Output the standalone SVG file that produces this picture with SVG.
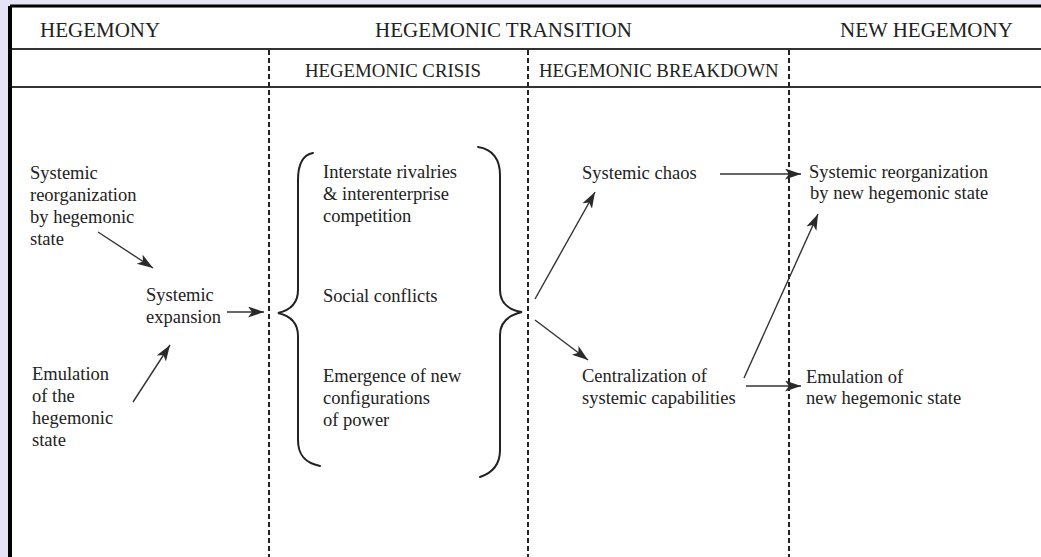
<svg xmlns="http://www.w3.org/2000/svg" width="1041" height="557" viewBox="0 0 1041 557">
  <style>
    .hdr { font-family: "Liberation Serif", "DejaVu Serif", serif; font-size: 21px; fill: #222; }
    .sub { font-family: "Liberation Serif", "DejaVu Serif", serif; font-size: 18.8px; fill: #222; }
    .lbl { font-family: "Liberation Serif", "DejaVu Serif", serif; font-size: 18.5px; fill: #222; }
    .rule { stroke: #333; stroke-width: 2; fill: none; }
    .dash { stroke: #222; stroke-width: 2; stroke-dasharray: 5 3; fill: none; }
    .brace { stroke: #222; stroke-width: 2; fill: none; stroke-linecap: round; }
    .arrow { stroke: #333; stroke-width: 1.4; fill: none; marker-end: url(#head); }
  </style>
  <defs>
    <marker id="head" markerUnits="userSpaceOnUse" markerWidth="18" markerHeight="12" refX="16" refY="5.5" orient="auto">
      <path d="M0,0 L16,5.5 L0,11 L4,5.5 z" fill="#2a2a2a"/>
    </marker>
  </defs>

  <!-- page background and framed panel -->
  <rect x="0" y="0" width="1041" height="557" fill="#e4e4f6"/>
  <rect x="10" y="7.5" width="1031" height="549.5" fill="#ffffff"/>
  <line x1="10" y1="6" x2="1041" y2="6" stroke="#000" stroke-width="3"/>
  <line x1="10" y1="6" x2="10" y2="557" stroke="#000" stroke-width="4"/>

  <!-- header rules -->
  <line class="rule" x1="12" y1="49" x2="1041" y2="49" stroke="#555"/>
  <line class="rule" x1="12" y1="87" x2="1041" y2="87"/>

  <!-- phase dividers -->
  <g id="dividers">
    <line class="dash" x1="269" y1="50" x2="269" y2="557"/>
    <line class="dash" x1="528" y1="50" x2="528" y2="557"/>
    <line class="dash" x1="789" y1="50" x2="789" y2="557"/>
  </g>

  <!-- column headings -->
  <g id="headings">
    <text class="hdr" x="40" y="37">HEGEMONY</text>
    <text class="hdr" x="375" y="37">HEGEMONIC TRANSITION</text>
    <text class="hdr" x="840" y="37">NEW HEGEMONY</text>
    <text class="sub" x="305" y="77">HEGEMONIC CRISIS</text>
    <text class="sub" x="539" y="77">HEGEMONIC BREAKDOWN</text>
  </g>

  <!-- nodes -->
  <g id="reorg-hegemonic">
    <text class="lbl" x="30" y="179">Systemic</text>
    <text class="lbl" x="30" y="201">reorganization</text>
    <text class="lbl" x="30" y="223">by hegemonic</text>
    <text class="lbl" x="30" y="245">state</text>
  </g>
  <g id="systemic-expansion">
    <text class="lbl" x="146" y="301">Systemic</text>
    <text class="lbl" x="146" y="323">expansion</text>
  </g>
  <g id="emulation">
    <text class="lbl" x="32" y="380">Emulation</text>
    <text class="lbl" x="32" y="402">of the</text>
    <text class="lbl" x="32" y="424">hegemonic</text>
    <text class="lbl" x="32" y="446">state</text>
  </g>
  <g id="crisis">
    <path class="brace" d="M313,153 C302,155 298,165 298,180 L298,290 C298,303 291,310 278,313 C291,316 298,323 298,336 L298,440 C298,455 305,463 320,466"/>
    <text class="lbl" x="323" y="178">Interstate rivalries</text>
    <text class="lbl" x="323" y="200">&amp; interenterprise</text>
    <text class="lbl" x="323" y="222">competition</text>
    <text class="lbl" x="323" y="302">Social conflicts</text>
    <text class="lbl" x="323" y="382">Emergence of new</text>
    <text class="lbl" x="323" y="404">configurations</text>
    <text class="lbl" x="323" y="426">of power</text>
    <path class="brace" d="M478,147 C493,149 500,160 500,175 L500,290 C500,303 509,310 522,312 C509,315 500,322 500,335 L500,450 C500,465 492,473 480,477"/>
  </g>
  <g id="systemic-chaos">
    <text class="lbl" x="582" y="179">Systemic chaos</text>
  </g>
  <g id="centralization">
    <text class="lbl" x="582" y="382">Centralization of</text>
    <text class="lbl" x="582" y="404">systemic capabilities</text>
  </g>
  <g id="reorg-new">
    <text class="lbl" x="809" y="178">Systemic reorganization</text>
    <text class="lbl" x="810" y="199">by new hegemonic state</text>
  </g>
  <g id="emulation-new">
    <text class="lbl" x="806" y="383">Emulation of</text>
    <text class="lbl" x="806" y="404">new hegemonic state</text>
  </g>

  <!-- connectors -->
  <g id="connectors">
    <line class="arrow" x1="98" y1="232" x2="153" y2="268"/>
    <line class="arrow" x1="133" y1="402" x2="170" y2="345"/>
    <line class="arrow" x1="227" y1="312" x2="264" y2="312"/>
    <line class="arrow" x1="535" y1="299" x2="595" y2="192"/>
    <line class="arrow" x1="535" y1="320" x2="588" y2="360"/>
    <line class="arrow" x1="720" y1="174" x2="801" y2="174"/>
    <line class="arrow" x1="744" y1="378" x2="818" y2="214"/>
    <line class="arrow" x1="746" y1="386" x2="801" y2="386"/>
  </g>
</svg>
